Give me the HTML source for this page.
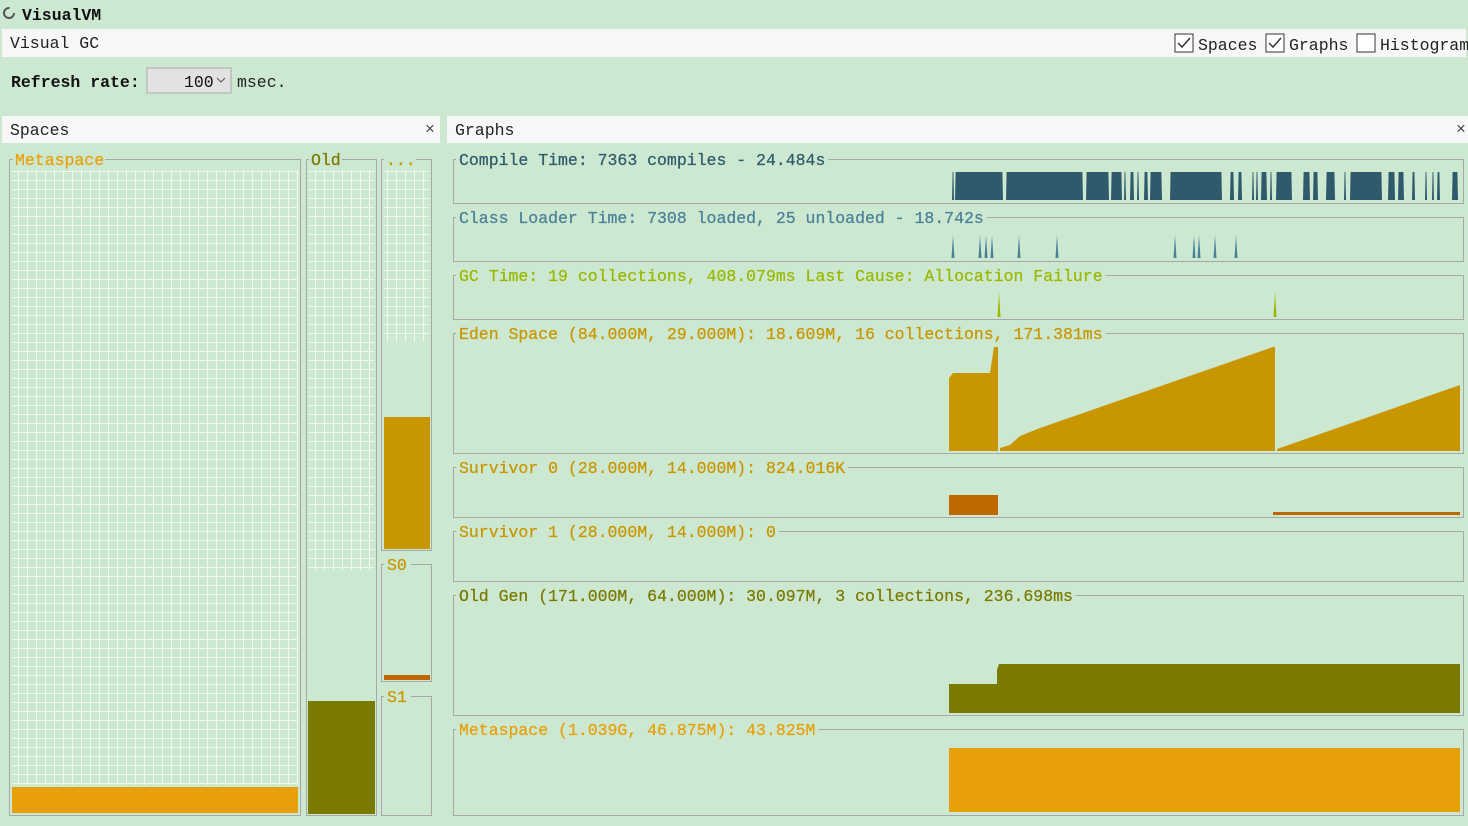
<!DOCTYPE html>
<html><head><meta charset="utf-8"><style>
html,body{margin:0;padding:0;background:#cde8d0;width:1468px;height:826px;overflow:hidden}
svg{display:block}
text{font-family:"Liberation Mono","Noto Serif CJK SC",monospace;font-size:16.5px;stroke-width:0.25px}
</style></head><body>
<svg id="s" width="1468" height="826" xmlns="http://www.w3.org/2000/svg">
<defs>
<pattern id="g" width="9" height="9" patternUnits="userSpaceOnUse">
<rect width="9" height="9" fill="#cde8d0"/>
<path d="M0 0.5H9M0.5 0V9" stroke="#f2f8f2" stroke-width="1"/>
</pattern>
</defs>
<rect width="1468" height="826" fill="#cde8d0"/>
<circle cx="9" cy="13" r="5" fill="none" stroke="#555" stroke-width="2" stroke-dasharray="24 8"/>
<text x="22" y="20" font-weight="bold" fill="#111">VisualVM</text>
<rect x="2" y="29" width="1464" height="28" fill="#f6f7f6"/>
<text x="10" y="48" fill="#222">Visual GC</text>
<rect x="1175" y="34" width="18" height="18" fill="#fff" stroke="#333"/><path d="M1178 43l4 4 8-9" stroke="#333" fill="none" stroke-width="1.5"/>
<text x="1198" y="50" fill="#222" font-size="15.5">Spaces</text>
<rect x="1266" y="34" width="18" height="18" fill="#fff" stroke="#333"/><path d="M1269 43l4 4 8-9" stroke="#333" fill="none" stroke-width="1.5"/>
<text x="1289" y="50" fill="#222" font-size="15.5">Graphs</text>
<rect x="1357" y="34" width="18" height="18" fill="#fff" stroke="#333"/>
<text x="1380" y="50" fill="#222" font-size="15.5">Histogram</text>
<text x="11" y="87" font-weight="bold" fill="#111">Refresh rate:</text>
<rect x="147" y="68" width="84" height="25" fill="#e2e2e2" stroke="#aaa"/>
<text x="184" y="87" fill="#111">100</text>
<path d="M217 78l4 4 4-4" stroke="#555" fill="none"/>
<text x="237" y="87" fill="#222">msec.</text>
<rect x="2" y="116" width="438" height="27" fill="#f6f7f6"/>
<text x="10" y="135" fill="#222">Spaces</text>
<text x="425" y="134" fill="#444" font-size="14">×</text>
<rect x="447" y="116" width="1021" height="27" fill="#f6f7f6"/>
<text x="455" y="135" fill="#222">Graphs</text>
<text x="1456" y="134" fill="#444" font-size="14">×</text>
<rect x="9.5" y="159.5" width="291" height="656" fill="none" stroke="#a8a8a8"/>
<rect x="12" y="170" width="286" height="615" fill="url(#g)"/>
<rect x="12" y="787" width="286" height="26" fill="#e8a00a"/>
<rect x="13" y="150" width="92" height="18" fill="#cde8d0"/>
<text x="15" y="165" fill="#e8a00a" stroke="#e8a00a">Metaspace</text>
<rect x="306.5" y="159.5" width="70" height="656" fill="none" stroke="#a8a8a8"/>
<rect x="309" y="170" width="65" height="400" fill="url(#g)"/>
<rect x="308" y="701" width="67" height="113" fill="#7a7a00"/>
<rect x="309" y="150" width="33" height="18" fill="#cde8d0"/>
<text x="311" y="165" fill="#7a7a00" stroke="#7a7a00">Old</text>
<rect x="381.5" y="159.5" width="50" height="391" fill="none" stroke="#a8a8a8"/>
<rect x="384" y="170" width="45" height="172" fill="url(#g)"/>
<rect x="384" y="417" width="46" height="132" fill="#c89600"/>
<rect x="384" y="150" width="32" height="18" fill="#cde8d0"/>
<text x="386" y="165" fill="#c89600" stroke="#c89600">...</text>
<rect x="381.5" y="564.5" width="50" height="117" fill="none" stroke="#a8a8a8"/>
<rect x="384" y="675" width="46" height="5" fill="#c06800"/>
<rect x="384" y="555" width="27" height="18" fill="#cde8d0"/>
<text x="387" y="570" fill="#c89600" stroke="#c89600">S0</text>
<rect x="381.5" y="696.5" width="50" height="119" fill="none" stroke="#a8a8a8"/>
<rect x="384" y="687" width="27" height="18" fill="#cde8d0"/>
<text x="387" y="702" fill="#c89600" stroke="#c89600">S1</text>
<g id="gb"></g>
<path d="M949 451V378L953 373H990L994 347H998V451Z" fill="#c89600"/>
<path d="M1000 451V448L1010 445L1020 436L1040 428L1273 347H1275V451Z" fill="#c89600"/>
<path d="M1277 451V449L1300 441L1460 385V451Z" fill="#c89600"/>
<rect x="949" y="495" width="49" height="20" fill="#c06800"/>
<rect x="1273" y="512" width="187" height="3" fill="#c06800"/>
<path d="M949 713V684H997V670L999 664H1460V713Z" fill="#7a7a00"/>
<path d="M949 812V748H1460V812Z" fill="#e8a00a"/>
<g id="sp"></g>
</svg>
<script>
var NS="http://www.w3.org/2000/svg",gb=document.getElementById("gb"),sp=document.getElementById("sp");
function el(p,t,a,tx){var e=document.createElementNS(NS,t);for(var k in a)e.setAttribute(k,a[k]);if(tx)e.textContent=tx;p.appendChild(e);return e;}
var boxes=[[159,203,"Compile Time: 7363 compiles - 24.484s","#2f5a6c"],[217,261,"Class Loader Time: 7308 loaded, 25 unloaded - 18.742s","#4a8098"],[275,319,"GC Time: 19 collections, 408.079ms Last Cause: Allocation Failure","#9ab800"],[333,453,"Eden Space (84.000M, 29.000M): 18.609M, 16 collections, 171.381ms","#c89600"],[467,517,"Survivor 0 (28.000M, 14.000M): 824.016K","#c89600"],[531,581,"Survivor 1 (28.000M, 14.000M): 0","#c89600"],[595,715,"Old Gen (171.000M, 64.000M): 30.097M, 3 collections, 236.698ms","#7a7a00"],[729,815,"Metaspace (1.039G, 46.875M): 43.825M","#e8a00a"]];
boxes.forEach(function(b){el(gb,"rect",{x:453.5,y:b[0]+.5,width:1010,height:b[1]-b[0],fill:"none",stroke:"#a8a8a8"});
var w=b[2].length*9.9+6;el(gb,"rect",{x:456,y:b[0]-8,width:w,height:16,fill:"#cde8d0"});
el(gb,"text",{x:459,y:b[0]+6,fill:b[3],stroke:b[3]},b[2]);});
var runs=[[952,954],[955,1003],[1006,1083],[1086,1109],[1111,1122],[1124,1126],[1130,1134],[1137,1139],[1144,1148],[1150,1162],[1170,1222],[1230,1234],[1238,1242],[1252,1254],[1256,1258],[1261,1267],[1270,1272],[1276,1292],[1303,1310],[1313,1318],[1326,1335],[1344,1346],[1350,1382],[1388,1395],[1398,1404],[1412,1415],[1425,1427],[1432,1434],[1437,1440],[1452,1458]];
runs.forEach(function(r){el(sp,"path",{d:"M"+r[0]+" 200L"+(r[0]+0.6)+" 172H"+(r[1]-0.6)+"L"+r[1]+" 200Z",fill:"#2f5a6c"});});
[953,980,986,992,1019,1057,1175,1194,1199,1215,1236].forEach(function(x){el(sp,"path",{d:"M"+(x-1.5)+" 258L"+x+" 235L"+(x+1.5)+" 258Z",fill:"#4a8098"});});
[999,1275].forEach(function(x){el(sp,"path",{d:"M"+(x-1.5)+" 317L"+x+" 292L"+(x+1.5)+" 317Z",fill:"#9ab800"});});
</script>
</body></html>
